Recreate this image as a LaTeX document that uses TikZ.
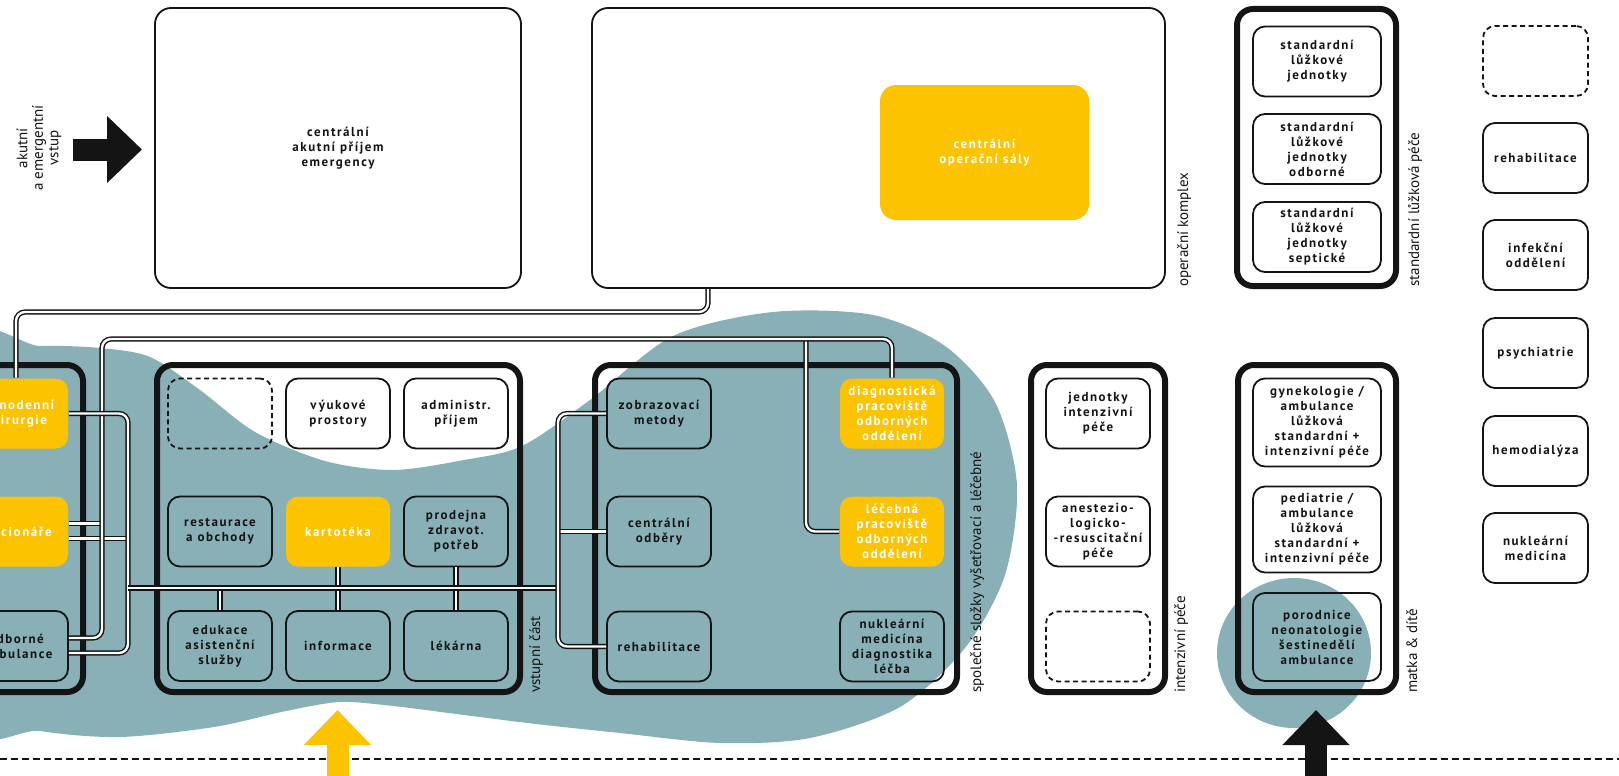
\documentclass[tikz,border=0pt]{standalone}
\usepackage{fontspec}
\setmainfont{PT Sans}
\newfontfamily\unitfont{PT Sans}[LetterSpace=12]
\usetikzlibrary{arrows.meta}

\definecolor{pond}{HTML}{88B0B6}
\definecolor{amber}{HTML}{FCC300}
\definecolor{ink}{HTML}{141414}

\tikzset{
  unit/.style={draw=ink, line width=1.8pt, rounded corners=12pt, align=center, text=ink,
    font=\unitfont\bfseries\fontsize{13}{15}\selectfont,
    minimum width=104pt, minimum height=70pt, inner sep=1pt},
  hot/.style={unit, draw=none, fill=amber, text=white},
  blank/.style={unit, dash pattern=on 5pt off 3.5pt},
  hall/.style={draw=ink, line width=1.8pt, rounded corners=16pt, align=center, text=ink,
    font=\unitfont\bfseries\fontsize{13}{15}\selectfont, minimum height=280pt},
  frame/.style={draw=ink, line width=6pt, rounded corners=16pt, minimum height=327pt},
  pipe/.style={draw=ink, line width=1.4pt, double=white, double distance=2.4pt, rounded corners=9pt},
  wing/.style={rotate=90, anchor=north west, inner sep=0pt, text=ink, font=\fontsize{15}{16}\selectfont},
  bolt/.style={line width=22pt, -{Triangle[length=35pt, width=65pt]}},
}

\begin{document}
\begin{tikzpicture}[x=1pt, y=-1pt]
\useasboundingbox (0,0) rectangle (1619,776);
\clip (0,0) rectangle (1619,776);

% teal background
\fill[pond] plot[smooth cycle] coordinates {(-40,352) (40,346) (100,348) (150,357) (200,390)
  (255,432) (325,461) (393,470) (464,460) (522,446) (590,400) (673,336) (773,312) (873,315)
  (945,346) (995,402) (1017,485) (1005,575) (965,648) (900,707) (810,738) (720,743) (620,733)
  (536,724) (464,715) (393,706) (340,702) (286,711) (214,727) (120,737) (40,731) (-40,712)};
\fill[pond] (1294,653) ellipse [x radius=77, y radius=75];

% entry line
\coordinate (edgeW) at (0,759);
\coordinate (edgeE) at (1619,759);
\draw[ink, line width=2pt, dash pattern=on 7pt off 4pt] (edgeW) -- (edgeE);

% top row
\node[hall, minimum width=366pt] (emerg) at (338,148) {centrální\\akutní příjem\\emergency};
\node[hall, minimum width=573pt] (opkomplex) at (878.5,148) {};
\node[hot, minimum width=209pt, minimum height=135pt, rounded corners=16pt] (opsaly) at (984.5,152.5) {centrální\\operační sály};
\node[wing] (oplabel) at (1177,287) {operační komplex};

\node[frame, minimum width=159pt, minimum height=277pt] (stdframe) at (1316.5,147.5) {};
\node[unit, minimum width=128pt] (std1) at (1317,61.5) {standardní\\lůžkové\\jednotky};
\node[unit, minimum width=128pt] (std2) at (1317,149) {standardní\\lůžkové\\jednotky\\odborné};
\node[unit, minimum width=128pt] (std3) at (1317,237) {standardní\\lůžkové\\jednotky\\septické};
\node[wing] (stdlabel) at (1408,287) {standardní lůžková péče};

% right column
\node[blank, minimum width=105pt] (free1) at (1535.5,61) {};
\node[unit, minimum width=105pt] (rehab) at (1535.5,158) {rehabilitace};
\node[unit, minimum width=105pt] (infekce) at (1535.5,255) {infekční\\oddělení};
\node[unit, minimum width=105pt] (psych) at (1535.5,353) {psychiatrie};
\node[unit, minimum width=105pt] (dialyza) at (1535.5,451) {hemodialýza};
\node[unit, minimum width=105pt] (nukl) at (1535.5,548) {nukleární\\medicína};

% left column (cut by the edge)
\node[frame, minimum width=283pt] (leftframe) at (-58.5,528.5) {};
\node[hot] (jedno) at (16,413.5) {jednodenní\\chirurgie};
\node[hot] (stac) at (16,531.5) {stacionáře};
\node[unit] (amb) at (16,646) {odborné\\ambulance};

% vstupni cast
\node[frame, minimum width=363pt] (vstup) at (338.5,528.5) {};
\node[blank] (free2) at (220,413.5) {};
\node[unit] (vyuka) at (338,413.5) {výukové\\prostory};
\node[unit] (admin) at (456,413.5) {administr.\\příjem};
\node[unit] (rest) at (220,531.5) {restaurace\\a obchody};
\node[hot] (kart) at (338,531.5) {kartotéka};
\node[unit] (prod) at (456,531.5) {prodejna\\zdravot.\\potřeb};
\node[unit] (edu) at (220,646) {edukace\\asistenční\\služby};
\node[unit] (info) at (338,646) {informace};
\node[unit] (lek) at (456,646) {lékárna};
\node[wing] (vstuplabel) at (529,693) {vstupní část};

% spolecne slozky
\node[frame, minimum width=362pt] (spol) at (776,528.5) {};
\node[unit] (zob) at (659,413.5) {zobrazovací\\metody};
\node[unit] (odb) at (659,531.5) {centrální\\odběry};
\node[unit] (reh) at (659,646.5) {rehabilitace};
\node[hot] (diag) at (892,413.5) {diagnostická\\pracoviště\\odborných\\oddělení};
\node[hot] (lecebna) at (892,531.5) {léčebná\\pracoviště\\odborných\\oddělení};
\node[unit] (nuklear) at (892,646.5) {nukleární\\medicína\\diagnostika\\léčba};
\node[wing] (spollabel) at (970,693) {společné složky vyšetřovací a léčebné};

% intenzivni pece
\node[frame, minimum width=134pt] (intframe) at (1098,528.5) {};
\node[unit] (jip) at (1098,413.5) {jednotky\\intenzivní\\péče};
\node[unit] (aro) at (1098,531.5) {anestezio-\\logicko-\\-resuscitační\\péče};
\node[blank] (free3) at (1098,646.5) {};
\node[wing] (intlabel) at (1174,693) {intenzivní péče};

% matka a dite
\node[frame, minimum width=158pt] (matka) at (1317,528.5) {};
\node[unit, minimum width=128pt, minimum height=88pt] (gyn) at (1317,422.5) {gynekologie /\\ambulance\\lůžková\\standardní +\\intenzivní péče};
\node[unit, minimum width=128pt, minimum height=86pt] (ped) at (1317,529.5) {pediatrie /\\ambulance\\lůžková\\standardní +\\intenzivní péče};
\node[unit, minimum width=128pt, minimum height=88pt] (porod) at (1317,637) {porodnice\\neonatologie\\šestinedělí\\ambulance};
\node[wing] (matkalabel) at (1406,693) {matka \& dítě};

% links
\coordinate (opport) at (708,289);
\coordinate (spine) at (558,588);
\coordinate (hub) at (128,588);
\draw[pipe] ([yshift=8pt]stac.east) -- (102,523.5);
\draw[pipe] ([yshift=-7pt]stac.east) -- (128,538.5);
\draw[pipe] (806,339) |- (lecebna.west);
\draw[pipe] (odb.west) -- (odb.west -| spine);
\draw[pipe] (edu.north) -- (edu.north |- hub);
\draw[pipe] (kart.south) -- (kart.south |- hub);
\draw[pipe] (info.north) -- (info.north |- hub);
\draw[pipe] (prod.south) -- (prod.south |- hub);
\draw[pipe] (lek.north) -- (lek.north |- hub);
\draw[pipe] (opport) -- ++(0,23) -| (jedno.north);
\draw[pipe] (diag.north) |- (102,339) |- ([yshift=8pt]amb.east);
\draw[pipe] (jedno.east) -| (128,653) -- ([yshift=-7pt]amb.east);
\draw[pipe] (hub) -- (spine);
\draw[pipe] (zob.west) -| (558,646.5) -- (reh.west);

% entrances
\coordinate (acuteA) at (73,149.5);
\coordinate (acuteB) at (142,149.5);
\coordinate (mainA) at (337.5,790);
\coordinate (mainB) at (337.5,710);
\coordinate (birthA) at (1316,790);
\coordinate (birthB) at (1316,710);
\draw[bolt, ink] (acuteA) -- (acuteB);
\draw[bolt, amber] (mainA) -- (mainB);
\draw[bolt, ink] (birthA) -- (birthB);
\node[rotate=90, align=center, text=ink, font=\fontsize{15}{15.5}\selectfont] (acutelabel) at (39,148) {akutní\\a emergentní\\vstup};
\end{tikzpicture}
\end{document}
